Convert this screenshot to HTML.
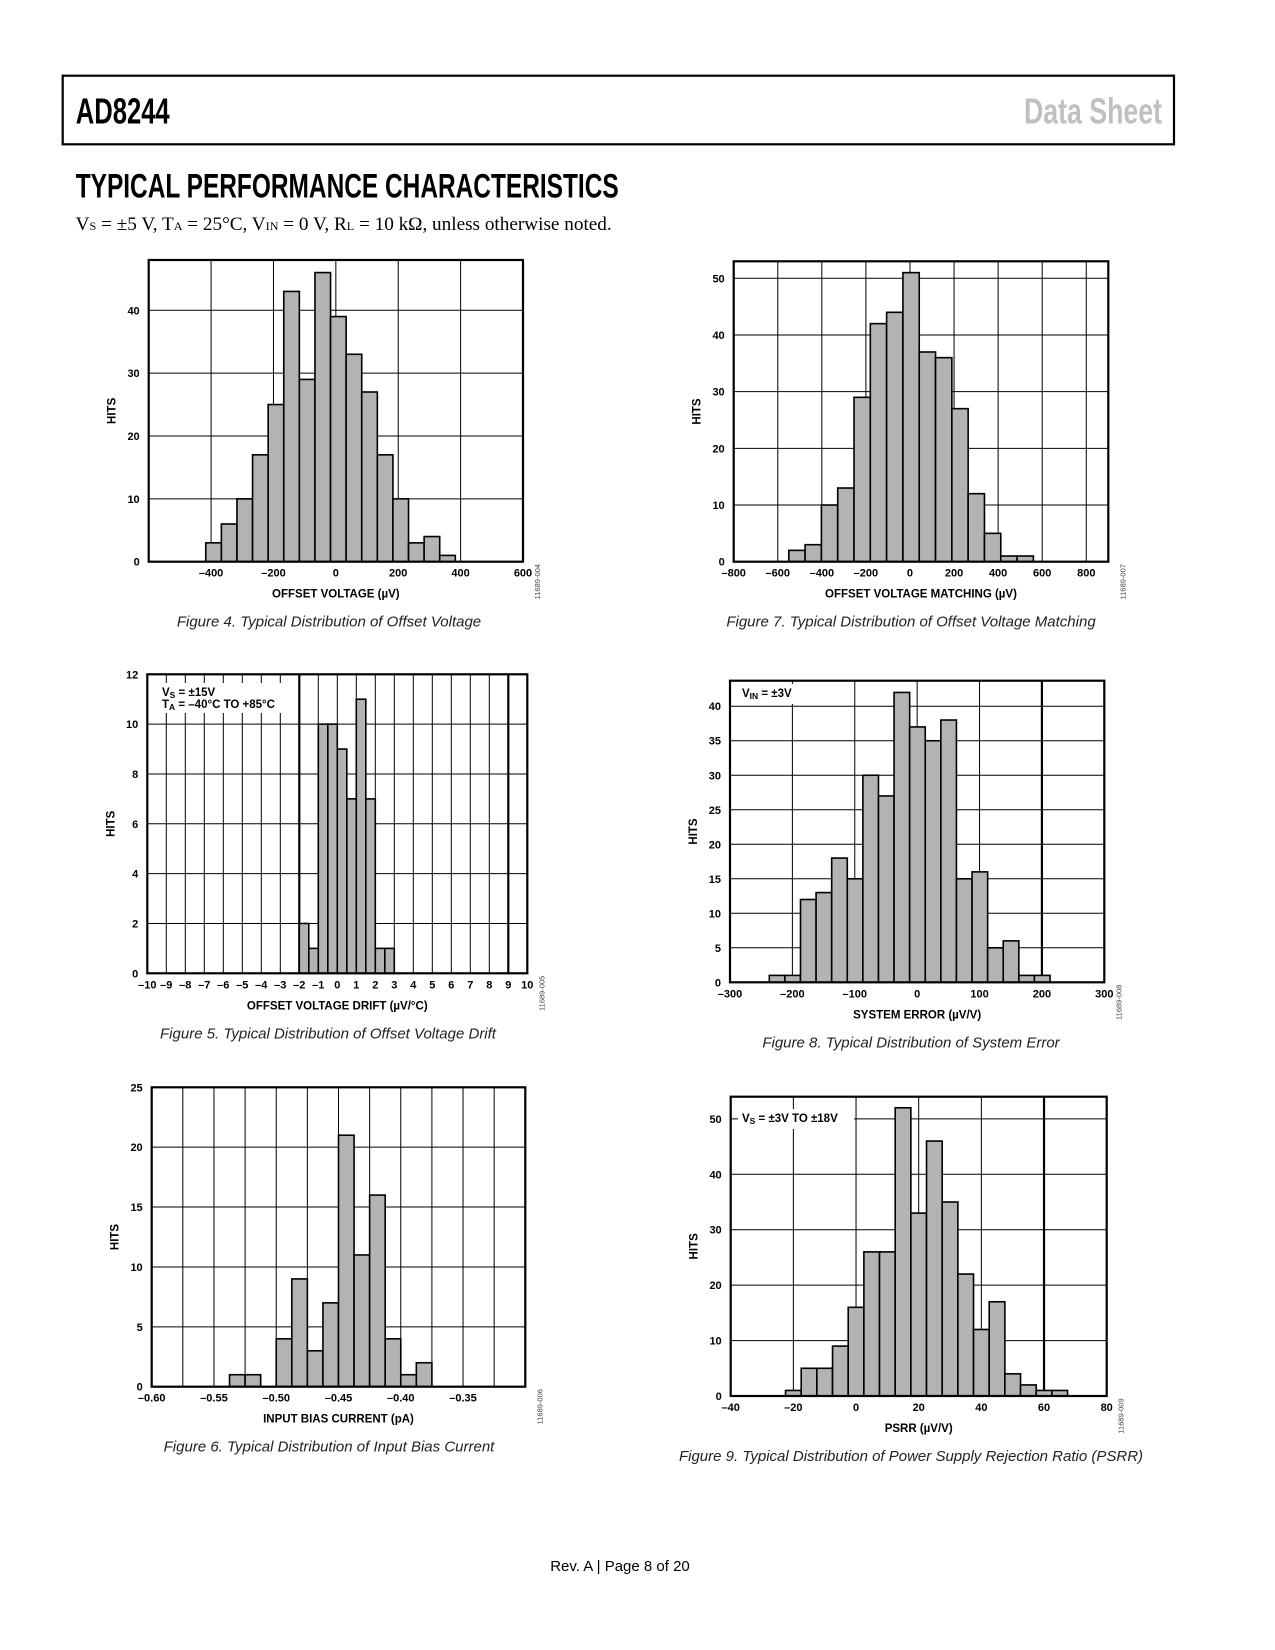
<!DOCTYPE html>
<html><head><meta charset="utf-8"><style>
html,body{margin:0;padding:0;background:#fff}
svg{display:block}
</style></head><body>
<svg id="page" xmlns="http://www.w3.org/2000/svg" width="1275" height="1650" viewBox="0 0 1275 1650" font-family="Liberation Sans, sans-serif">
<rect x="62.7" y="75.7" width="1111.3" height="68.6" fill="none" stroke="#000" stroke-width="2.2"/>
<text x="75.7" y="123.3" font-size="36" font-weight="bold" textLength="94" lengthAdjust="spacingAndGlyphs">AD8244</text>
<text x="1024" y="123.3" font-size="36" font-weight="bold" fill="#c0c0c0" textLength="138" lengthAdjust="spacingAndGlyphs">Data Sheet</text>
<text x="75.7" y="197.3" font-size="34" font-weight="bold" textLength="543" lengthAdjust="spacingAndGlyphs">TYPICAL PERFORMANCE CHARACTERISTICS</text>
<text x="75.7" y="230" font-size="19" font-family="Liberation Serif, serif" textLength="536" lengthAdjust="spacingAndGlyphs">V<tspan font-size="12">S</tspan> = ±5 V, T<tspan font-size="12">A</tspan> = 25°C, V<tspan font-size="12">IN</tspan> = 0 V, R<tspan font-size="12">L</tspan> = 10 kΩ, unless otherwise noted.</text>
<text x="620" y="1571" font-size="15" text-anchor="middle">Rev. A | Page 8 of 20</text>
<g id="charts"></g>
</svg>
<script>
// Figure 4 data
const f4Values=[3,6,10,17,25,43,29,46,39,33,27,17,10,3,4,1];
const f4BinStart=-417, f4BinWidth=50;
const f4XTicks=[-400,-200,0,200,400,600];
const f4YTicks=[0,10,20,30,40];
// Figure 7 data
const f7Values=[2,3,10,13,29,42,44,51,37,36,27,12,5,1,1];
const f7BinStart=-550, f7BinWidth=74;
const f7XTicks=[-800,-600,-400,-200,0,200,400,600,800];
const f7YTicks=[0,10,20,30,40,50];
// Figure 5 data
const f5Values=[2,1,10,10,9,7,11,7,1,1];
const f5BinStart=-2, f5BinWidth=0.5;
const f5XTicks=[-10,-9,-8,-7,-6,-5,-4,-3,-2,-1,0,1,2,3,4,5,6,7,8,9,10];
const f5YTicks=[0,2,4,6,8,10,12];
// Figure 8 data
const f8Values=[1,1,12,13,18,15,30,27,42,37,35,38,15,16,5,6,1,1];
const f8BinStart=-237, f8BinWidth=25;
const f8XTicks=[-300,-200,-100,0,100,200,300];
const f8YTicks=[0,5,10,15,20,25,30,35,40];
// Figure 6 data
const f6Values=[1,1,0,4,9,3,7,21,11,16,4,1,2];
const f6BinStart=-0.5375, f6BinWidth=0.0125;
const f6XTicks=[-0.60,-0.55,-0.50,-0.45,-0.40,-0.35];
const f6YTicks=[0,5,10,15,20,25];
// Figure 9 data
const f9Values=[1,5,5,9,16,26,26,52,33,46,35,22,12,17,4,2,1,1];
const f9BinStart=-22.5, f9BinWidth=5;
const f9XTicks=[-40,-20,0,20,40,60,80];
const f9YTicks=[0,10,20,30,40,50];

const NS='http://www.w3.org/2000/svg';
const root=document.getElementById('charts');
function mk(tag,attrs,parent){const e=document.createElementNS(NS,tag);for(const k in attrs)e.setAttribute(k,attrs[k]);parent.appendChild(e);return e;}
function fmt(v,dec){const s=Math.abs(v).toFixed(dec);return v<0?'\u2013'+s:s;}

function chart(c){
  const g=mk('g',{},root);
  
  
  const sx=v=>c.L+(v-c.x0)/(c.x1-c.x0)*(c.R-c.L);
  const sy=v=>c.B-(v-c.y0)/(c.y1-c.y0)*(c.B-c.T);
  c.xgrid.forEach(v=>{const l=mk('line',{x1:sx(v),x2:sx(v),y1:c.T,y2:c.B,stroke:'#000','stroke-width':(c.thick||[]).some(t=>Math.abs(t-v)<1e-9)?2.2:1},g);
    
    });
  c.ygrid.forEach(v=>{const l=mk('line',{x1:c.L,x2:c.R,y1:sy(v),y2:sy(v),stroke:'#000','stroke-width':1},g);
    
    });
  if(c.legend){const lg=c.legend;
    const r=mk('rect',{x:lg.x,y:lg.y,width:lg.w,height:lg.h,fill:'#fff'},g);
    
    
    lg.lines.forEach((ln,i)=>{const t=mk('text',{x:lg.x+4,y:lg.y+13+i*12,'font-size':11.5,'font-weight':'bold'},g);t.innerHTML=ln;
      
      });
  }
  c.values.forEach((v,i)=>{if(v<=0)return;const a=c.bs+i*c.bw,b=a+c.bw;
    const r=mk('rect',{x:sx(a),y:sy(v),width:sx(b)-sx(a),height:sy(0)-sy(v),fill:'#b3b3b3',stroke:'#000','stroke-width':1.6},g);
    
    });
  const f=mk('rect',{x:c.L,y:c.T,width:c.R-c.L,height:c.B-c.T,fill:'none',stroke:'#000','stroke-width':2.2},g);
  
  
  c.xticks.forEach(v=>{const t=mk('text',{x:sx(v),y:c.B+15,'font-size':11,'font-weight':'bold','text-anchor':'middle'},g);t.textContent=fmt(v,c.xdec||0);
    
    });
  c.yticks.forEach(v=>{const t=mk('text',{x:c.L-9,y:sy(v)+4,'font-size':11,'font-weight':'bold','text-anchor':'end'},g);t.textContent=fmt(v,0);
    
    });
  const xt=mk('text',{x:(c.L+c.R)/2,y:c.B+36,'font-size':11.5,'font-weight':'bold','text-anchor':'middle'},g);xt.textContent=c.xtitle;
  
  
  const cy=(c.T+c.B)/2;
  const yt=mk('text',{x:c.L-33,y:cy,'font-size':11.5,'font-weight':'bold','text-anchor':'middle',transform:`rotate(-90 ${c.L-33} ${cy})`},g);yt.textContent='HITS';
  
  
  const cx=c.R+17, ccy=c.B+20;
  const cd=mk('text',{x:cx,y:ccy,'font-size':7.5,fill:'#444','text-anchor':'middle',transform:`rotate(-90 ${cx} ${ccy})`},g);cd.textContent=c.code;
  
  
  const cp=mk('text',{x:c.capX,y:c.B+65,'font-size':15,'font-style':'italic','text-anchor':'middle',fill:'#222'},g);cp.textContent=c.caption;
  
  
}
function range(a,b,s){const r=[];for(let v=a;v<=b+s*1e-6;v+=s)r.push(+v.toFixed(6));return r;}

chart({name:'figure-4-offset-voltage',L:148.7,R:523,T:260,B:561.7,x0:-600,x1:600,y0:0,y1:48,
  xgrid:range(-400,400,200),ygrid:range(10,40,10),values:f4Values,bs:f4BinStart,bw:f4BinWidth,
  xticks:f4XTicks,yticks:f4YTicks,xtitle:'OFFSET VOLTAGE (µV)',code:'11689-004',capX:329,
  caption:'Figure 4. Typical Distribution of Offset Voltage'});
chart({name:'figure-7-offset-voltage-matching',L:733.7,R:1108.3,T:261.3,B:561.7,x0:-800,x1:900,y0:0,y1:53,
  xgrid:range(-600,800,200),ygrid:range(10,50,10),values:f7Values,bs:f7BinStart,bw:f7BinWidth,
  xticks:f7XTicks,yticks:f7YTicks,xtitle:'OFFSET VOLTAGE MATCHING (µV)',code:'11689-007',capX:911,
  caption:'Figure 7. Typical Distribution of Offset Voltage Matching'});
chart({name:'figure-5-offset-voltage-drift',L:147.3,R:527.3,T:674.3,B:973.3,x0:-10,x1:10,y0:0,y1:12,
  xgrid:range(-9,9,1),thick:[-2,9],ygrid:range(2,10,2),values:f5Values,bs:f5BinStart,bw:f5BinWidth,
  xticks:f5XTicks,yticks:f5YTicks,xtitle:'OFFSET VOLTAGE DRIFT (µV/°C)',code:'11689-005',capX:328,
  legend:{x:158,y:683,w:132,h:30,lines:['V<tspan font-size="8.5" dy="2">S</tspan><tspan dy="-2"> = ±15V</tspan>','T<tspan font-size="8.5" dy="2">A</tspan><tspan dy="-2"> = –40°C TO +85°C</tspan>']},
  caption:'Figure 5. Typical Distribution of Offset Voltage Drift'});
chart({name:'figure-8-system-error',L:730,R:1104.3,T:680.7,B:982.3,x0:-300,x1:300,y0:0,y1:43.7,
  xgrid:range(-200,200,100),thick:[200],ygrid:range(5,40,5),values:f8Values,bs:f8BinStart,bw:f8BinWidth,
  xticks:f8XTicks,yticks:f8YTicks,xtitle:'SYSTEM ERROR (µV/V)',code:'11689-008',capX:911,
  legend:{x:738,y:684,w:64,h:20,lines:['V<tspan font-size="8.5" dy="2">IN</tspan><tspan dy="-2"> = ±3V</tspan>']},
  caption:'Figure 8. Typical Distribution of System Error'});
chart({name:'figure-6-input-bias-current',L:151.7,R:525.3,T:1087.3,B:1386.7,x0:-0.60,x1:-0.30,y0:0,y1:25,
  xgrid:range(-0.575,-0.325,0.025),ygrid:range(5,20,5),values:f6Values,bs:f6BinStart,bw:f6BinWidth,
  xticks:f6XTicks,yticks:f6YTicks,xdec:2,xtitle:'INPUT BIAS CURRENT (pA)',code:'11689-006',capX:329,
  caption:'Figure 6. Typical Distribution of Input Bias Current'});
chart({name:'figure-9-psrr',L:730.7,R:1106.7,T:1096.7,B:1396,x0:-40,x1:80,y0:0,y1:54,
  xgrid:range(-20,60,20),thick:[60],ygrid:range(10,50,10),values:f9Values,bs:f9BinStart,bw:f9BinWidth,
  xticks:f9XTicks,yticks:f9YTicks,xtitle:'PSRR (µV/V)',code:'11689-009',capX:911,
  legend:{x:738,y:1109,w:116,h:20,lines:['V<tspan font-size="8.5" dy="2">S</tspan><tspan dy="-2"> = ±3V TO ±18V</tspan>']},
  caption:'Figure 9. Typical Distribution of Power Supply Rejection Ratio (PSRR)'});
</script>
</body></html>
